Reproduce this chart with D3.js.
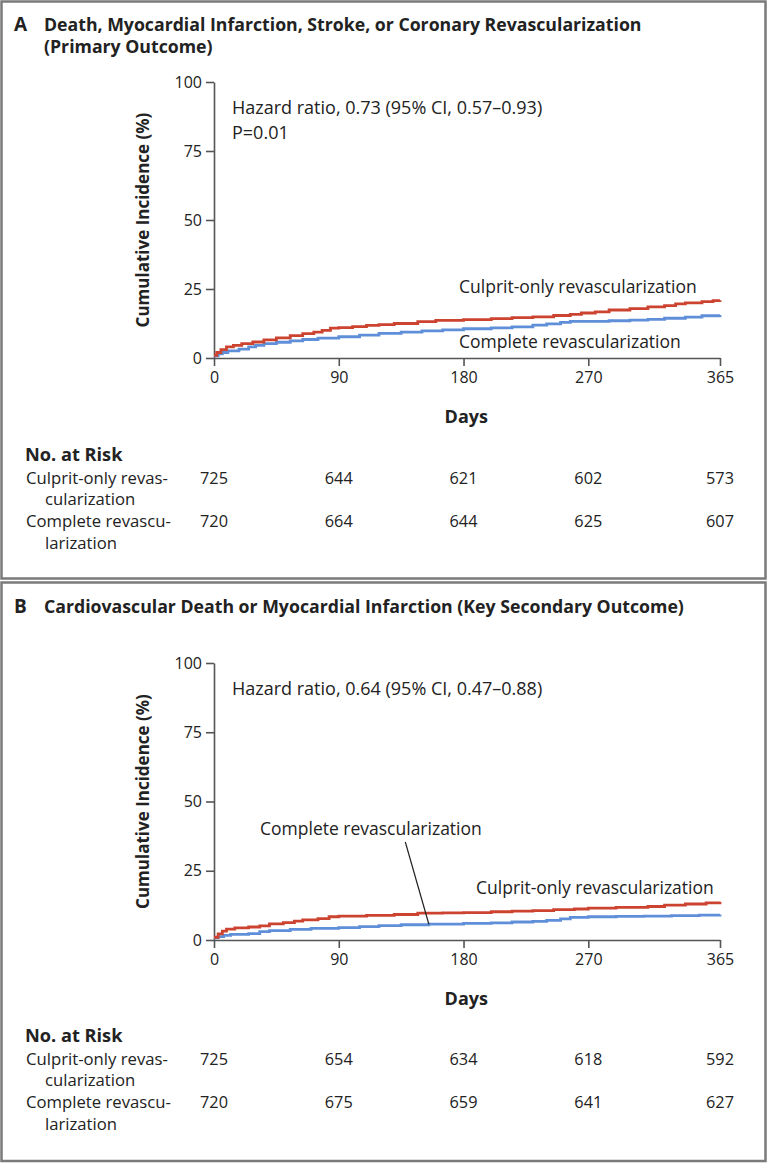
<!DOCTYPE html>
<html>
<head>
<meta charset="utf-8">
<script src="https://cdn.jsdelivr.net/npm/d3@7"></script>
<style>
  html, body { margin: 0; padding: 0; background: #fff; }
  svg { display: block; }
  text { font-family: "Open Sans", Lato, "DejaVu Sans", sans-serif; fill: #222; }
</style>
</head>
<body>
<svg id="chart" width="768" height="1163"></svg>
<script>
// ---------------- DATA ----------------
const xTicks = [0, 90, 180, 270, 365];
const yTicks = [0, 25, 50, 75, 100];

// Panel A — cumulative incidence (%) by day (step curves)
const panelA_culprit = [[0,1.0],[2,2.0],[5,3.0],[9,4.0],[14,4.6],[20,5.2],[28,5.8],[36,6.6],[45,7.3],[55,8.1],[64,8.8],[72,9.4],[78,10.0],[84,10.8],[90,11.0],[100,11.4],[110,11.8],[119,12.1],[130,12.5],[147,13.2],[160,13.6],[180,13.9],[200,14.3],[215,14.6],[230,14.9],[245,15.4],[257,15.8],[265,16.3],[275,16.7],[285,17.4],[300,17.9],[313,18.5],[325,19.0],[333,19.6],[340,20.0],[352,20.4],[360,20.8],[365,20.9]];
const panelA_complete = [[0,0.8],[3,1.5],[6,2.0],[10,2.6],[18,3.2],[25,4.0],[30,4.6],[36,5.2],[45,5.7],[55,6.2],[64,6.7],[75,7.2],[90,7.7],[105,8.3],[119,8.9],[135,9.4],[150,9.8],[165,10.2],[180,10.6],[200,10.9],[215,11.3],[230,11.9],[240,12.4],[250,12.9],[257,13.3],[270,13.3],[285,13.5],[300,13.7],[313,14.0],[325,14.4],[340,14.8],[352,15.3],[365,15.6]];

// Panel B
const panelB_culprit = [[0,1.0],[3,2.2],[6,3.2],[9,3.9],[15,4.4],[25,4.7],[33,5.1],[40,5.8],[50,6.3],[58,6.8],[64,7.3],[75,7.7],[83,8.4],[90,8.6],[110,8.9],[130,9.2],[147,9.7],[165,9.8],[180,9.9],[200,10.2],[215,10.4],[230,10.6],[245,11.0],[260,11.2],[270,11.5],[290,11.8],[313,12.1],[325,12.6],[340,13.0],[355,13.4],[365,13.8]];
const panelB_complete = [[0,0.8],[3,1.2],[7,1.7],[12,2.0],[25,2.3],[33,3.0],[40,3.4],[55,3.8],[70,4.2],[90,4.5],[105,4.8],[119,5.2],[135,5.5],[155,5.7],[180,6.0],[200,6.2],[215,6.5],[230,6.7],[240,7.1],[250,7.6],[257,8.2],[270,8.4],[290,8.5],[310,8.6],[330,8.8],[350,9.0],[365,9.2]];

// Numbers at risk
const riskA_culprit = [725, 644, 621, 602, 573];
const riskA_complete = [720, 664, 644, 625, 607];
const riskB_culprit = [725, 654, 634, 618, 592];
const riskB_complete = [720, 675, 659, 641, 627];

const titleA = ["Death, Myocardial Infarction, Stroke, or Coronary Revascularization", "(Primary Outcome)"];
const titleB = ["Cardiovascular Death or Myocardial Infarction (Key Secondary Outcome)"];
const hazardA = ["Hazard ratio, 0.73 (95% CI, 0.57\u20130.93)", "P=0.01"];
const hazardB = ["Hazard ratio, 0.64 (95% CI, 0.47\u20130.88)"];

// ---------------- DRAW ----------------
const RED = "#cc4330", BLUE = "#5f8fd8", AXIS = "#555";
const svg = d3.select("#chart");

// panel boxes
svg.append("rect").attr("x",1.5).attr("y",1.5).attr("width",764).attr("height",577)
  .attr("fill","none").attr("stroke","#7a7a7a").attr("stroke-width",2.5);
svg.append("rect").attr("x",1.5).attr("y",582.5).attr("width",764).attr("height",578.5)
  .attr("fill","none").attr("stroke","#7a7a7a").attr("stroke-width",2.5);

function panel(cfg) {
  const g = svg.append("g");
  const x = d3.scaleLinear().domain([0,365]).range([214,720]);
  const y = d3.scaleLinear().domain([0,100]).range([cfg.y0, cfg.y100]);

  // title
  g.append("text").attr("x",14).attr("y",cfg.titleY).attr("font-weight",700)
    .attr("font-size",19).text(cfg.letter);
  cfg.title.forEach((t,i) => g.append("text").attr("x",44).attr("y",cfg.titleY + i*22)
    .attr("font-weight",700).attr("font-size",17.7).text(t));

  // axes
  const ya = g.append("g").attr("transform",`translate(${x(0)},0)`)
    .call(d3.axisLeft(y).tickValues(yTicks).tickSize(8).tickSizeOuter(0).tickPadding(4));
  const xa = g.append("g").attr("transform",`translate(0,${y(0)})`)
    .call(d3.axisBottom(x).tickValues(xTicks).tickSize(8).tickSizeOuter(0).tickPadding(6));
  [ya, xa].forEach(a => {
    a.selectAll("path, line").attr("stroke",AXIS).attr("stroke-width",1.6);
    a.selectAll("text").attr("font-size",16).attr("fill","#333")
      .attr("font-family","'Open Sans', Lato, sans-serif");
  });

  // axis titles
  g.append("text").attr("transform",`translate(149,${(y(0)+y(100))/2}) rotate(-90)`)
    .attr("text-anchor","middle").attr("font-weight",700).attr("font-size",17)
    .text("Cumulative Incidence (%)");
  g.append("text").attr("x",x(182)).attr("y",y(0)+65).attr("text-anchor","middle")
    .attr("font-weight",700).attr("font-size",18).text("Days");

  // hazard text
  cfg.hazard.forEach((t,i) => g.append("text").attr("x",232).attr("y",cfg.hazY + i*25)
    .attr("font-size",18).text(t));

  // curves
  const line = d3.line().x(d => x(d[0])).y(d => y(d[1])).curve(d3.curveStepAfter);
  g.append("path").datum(cfg.complete).attr("d",line).attr("fill","none")
    .attr("stroke",BLUE).attr("stroke-width",2.8);
  g.append("path").datum(cfg.culprit).attr("d",line).attr("fill","none")
    .attr("stroke",RED).attr("stroke-width",2.8);

  // curve labels
  cfg.labels.forEach(l => g.append("text").attr("x",l.x).attr("y",l.y)
    .attr("font-size",17.5).text(l.t));
  if (cfg.leader) {
    const L = cfg.leader;
    g.append("line").attr("x1",x(L.d1)).attr("y1",L.yStart)
      .attr("x2",x(L.d2)).attr("y2",y(L.v2)).attr("stroke","#222").attr("stroke-width",1.2);
  }

  // risk table
  const r0 = cfg.riskY;
  g.append("text").attr("x",25).attr("y",r0).attr("font-weight",700).attr("font-size",18.2)
    .text("No. at Risk");
  const rowLab = [["Culprit-only revas-", 26, 23], ["cularization", 45, 44],
                  ["Complete revascu-", 26, 66], ["larization", 45, 88]];
  rowLab.forEach(r => g.append("text").attr("x",r[1]).attr("y",r0 + r[2])
    .attr("font-size",16.7).text(r[0]));
  [[cfg.riskCulprit, 23], [cfg.riskComplete, 66]].forEach(([vals, dy]) => {
    g.selectAll(null).data(vals).enter().append("text")
      .attr("x",(d,i) => x(xTicks[i])).attr("y",r0 + dy)
      .attr("text-anchor","middle").attr("font-size",16.3).text(d => d);
  });
}

panel({
  letter:"A", title:titleA, titleY:31, y0:358, y100:82,
  hazard:hazardA, hazY:114,
  culprit:panelA_culprit, complete:panelA_complete,
  labels:[{t:"Culprit-only revascularization", x:459, y:293},
          {t:"Complete revascularization", x:459, y:348}],
  riskY:461, riskCulprit:riskA_culprit, riskComplete:riskA_complete
});

panel({
  letter:"B", title:titleB, titleY:613, y0:940, y100:663,
  hazard:hazardB, hazY:695,
  culprit:panelB_culprit, complete:panelB_complete,
  labels:[{t:"Culprit-only revascularization", x:476, y:894},
          {t:"Complete revascularization", x:260, y:835}],
  leader:{d1:138, yStart:842, d2:155, v2:5.7},
  riskY:1042, riskCulprit:riskB_culprit, riskComplete:riskB_complete
});
</script>
</body>
</html>
